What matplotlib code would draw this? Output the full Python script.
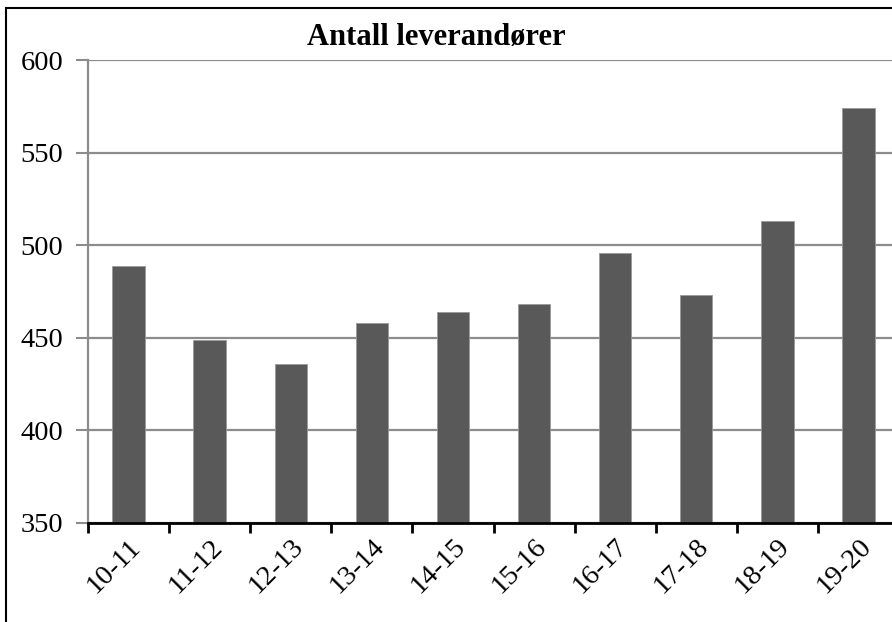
import matplotlib
matplotlib.use("Agg")
import matplotlib.pyplot as plt
import numpy as np
from matplotlib.patches import Rectangle

categories = ["10-11", "11-12", "12-13", "13-14", "14-15", "15-16", "16-17", "17-18", "18-19", "19-20"]
values = [489, 449, 436, 458, 464, 468, 496, 473, 513, 574]
yticks = [350, 400, 450, 500, 550, 600]
title = "Antall leverandører"

plt.rcParams['font.family'] = ['Liberation Serif', 'DejaVu Serif']

W, H = 892, 622
fig = plt.figure(figsize=(W / 100, H / 100), dpi=100)

ax_left, ax_right = 88, 899
ax_top, ax_bottom = 60, 523
ax = fig.add_axes([ax_left / W, 1 - ax_bottom / H, (ax_right - ax_left) / W, (ax_bottom - ax_top) / H])

x = np.arange(len(categories))
ax.bar(x, values, width=0.4, color="#595959", edgecolor="#9a9a9a", linewidth=0.6, zorder=3)

ax.set_xlim(-0.5, len(categories) - 0.5)
ax.set_ylim(350, 600)
ax.set_yticks(yticks)
ax.yaxis.grid(True, color="#8c8c8c", linewidth=1.6, zorder=0)
ax.tick_params(axis='y', labelsize=20.5, length=9, width=1.5, color="#8c8c8c", pad=9)

ax.set_xticks(np.arange(len(categories) + 1) - 0.5)
ax.set_xticklabels([])
ax.tick_params(axis='x', which='major', direction='out', length=7, width=2, color='black')
ax.set_xticks(x, minor=True)
ax.set_xticklabels(categories, minor=True, rotation=45, ha='right', va='top', rotation_mode='anchor', fontsize=20.5)
ax.tick_params(axis='x', which='minor', length=0, pad=8)

for s in ['top', 'right']:
    ax.spines[s].set_visible(False)
ax.spines['left'].set_color("#8c8c8c")
ax.spines['left'].set_linewidth(1.6)
ax.spines['bottom'].set_color('black')
ax.spines['bottom'].set_linewidth(2)
ax.spines['bottom'].set_zorder(4)

fig.text(436 / W, 1 - 38 / H, title, ha='center', va='center', fontsize=22, fontweight='bold')

fig.patches.append(Rectangle((6 / W, -0.1), 1.2, 1 - 8 / H + 0.1, transform=fig.transFigure,
                             fill=False, edgecolor='black', linewidth=1.5))

fig.savefig("out.png", dpi=100)
